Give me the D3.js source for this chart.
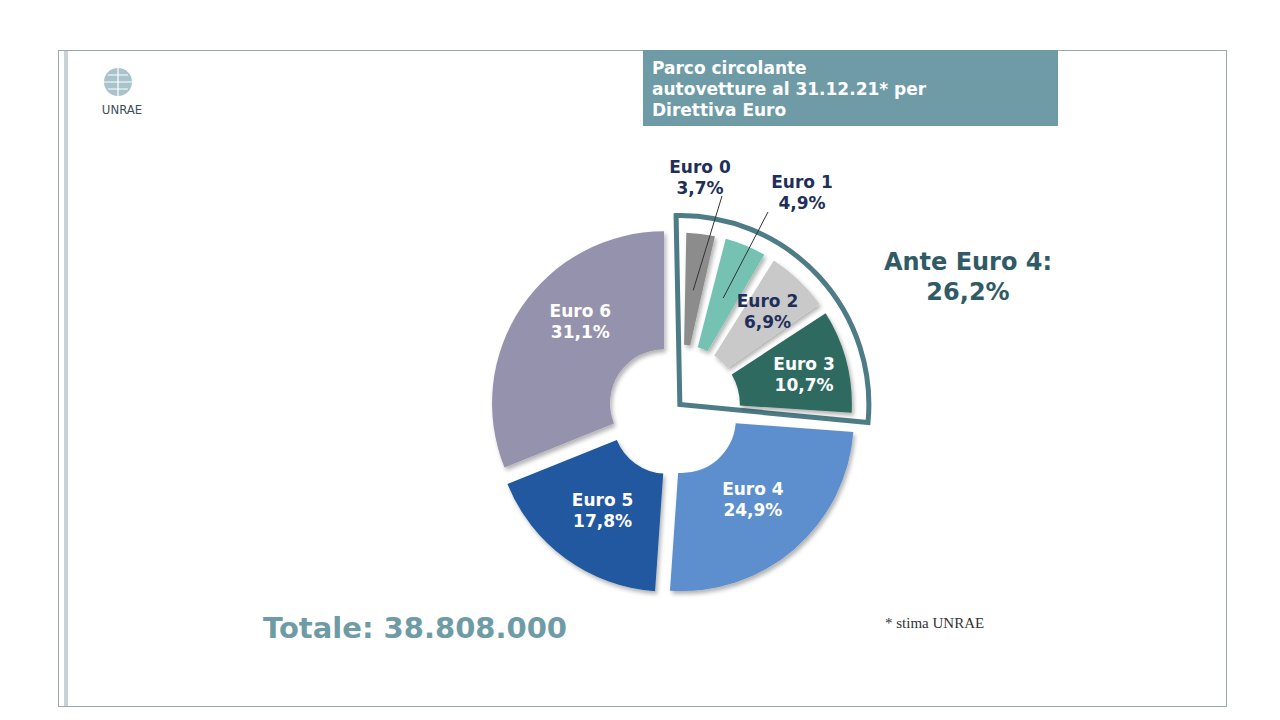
<!DOCTYPE html>
<html>
<head>
<meta charset="utf-8">
<script src="https://cdn.jsdelivr.net/npm/d3@7"></script>
<style>
body { margin: 0; background: #fff; }
svg { font-family: Verdana, "DejaVu Sans", sans-serif; }
</style>
</head>
<body>
<svg id="chart" width="1280" height="720"></svg>
<script>
const categories = ["Euro 0", "Euro 1", "Euro 2", "Euro 3", "Euro 4", "Euro 5", "Euro 6"];
const values = [3.7, 4.9, 6.9, 10.7, 24.9, 17.8, 31.1];
const colors = ["#8c8c8c", "#74c2b2", "#c9c9c9", "#2f6b5f", "#5d8fcf", "#20599f", "#9592ad"];
const labelColors = ["#1f2f5a", "#1f2f5a", "#1f2f5a", "#ffffff", "#ffffff", "#ffffff", "#ffffff"];
const anteCount = 4;
const total = "38.808.000";

const svg = d3.select("#chart");
const fmt = v => v.toFixed(1).replace(".", ",") + "%";

// frame
svg.append("rect").attr("x", 58.5).attr("y", 50.5).attr("width", 1168).attr("height", 656)
    .attr("fill", "none").attr("stroke", "#9aa8ab");
svg.append("line").attr("x1", 66).attr("x2", 66).attr("y1", 51).attr("y2", 706)
    .attr("stroke", "#c9d3d5").attr("stroke-width", 4);

// logo
const logo = svg.append("g").attr("transform", "translate(118,82)");
logo.append("circle").attr("r", 14).attr("fill", "#a9c3cb");
logo.append("path").attr("d", "M-14,0H14M0,-14V14M-10,-7H10M-10,7H10").attr("stroke", "#fff").attr("stroke-width", 1.2);
logo.append("text").attr("x", 4).attr("y", 32).attr("text-anchor", "middle")
    .attr("font-size", 13).attr("fill", "#3d4f57").attr("font-family", "DejaVu Sans Condensed").text("UNRAE");

// title box
svg.append("rect").attr("x", 643).attr("y", 50).attr("width", 415).attr("height", 76).attr("fill", "#6e9ba6");
["Parco circolante", "autovetture al 31.12.21* per", "Direttiva Euro"].forEach((t, i) => {
    svg.append("text").attr("x", 652).attr("y", 74 + i * 21).attr("fill", "#fff")
        .attr("font-size", 17).attr("font-weight", "bold").text(t);
});

// pie
const cx = 674, cy = 410;
const R = 172, r0 = 54, explode = 8;
const pie = d3.pie().sort(null).value(d => d)(values);
const toXY = (a, d) => [Math.sin(a) * d, -Math.cos(a) * d];

const defs = svg.append("defs");
const sh = defs.append("filter").attr("id", "sh").attr("x", "-20%").attr("y", "-20%").attr("width", "140%").attr("height", "140%");
sh.append("feDropShadow").attr("dx", 2).attr("dy", 3).attr("stdDeviation", 2).attr("flood-opacity", 0.3);

const g = svg.append("g").attr("transform", `translate(${cx},${cy})`);

// ante euro 4 group
const anteEnd = pie[anteCount - 1].endAngle;
const anteMid = anteEnd / 2;
const [ax, ay] = toXY(anteMid, explode);
const ante = g.append("g").attr("transform", `translate(${ax},${ay})`);
ante.append("path")
    .attr("d", d3.arc().innerRadius(0).outerRadius(R + 17)({ startAngle: -0.02, endAngle: anteEnd + 0.02 }))
    .attr("fill", "#fff").attr("stroke", "#4d7c86").attr("stroke-width", 5);
const arcIn = d3.arc().innerRadius(r0 + 6).outerRadius(R).padAngle(0.035).padRadius(R);
ante.selectAll("path.s").data(pie.slice(0, anteCount)).enter().append("path")
    .attr("class", "s").attr("d", d => arcIn({ ...d, startAngle: d.startAngle + 0.02, endAngle: d.endAngle - 0.01 }))
    .attr("fill", (d, i) => colors[i]).attr("filter", "url(#sh)");

// other slices
const arc = d3.arc().innerRadius(r0).outerRadius(R);
pie.slice(anteCount).forEach((d, k) => {
    const i = k + anteCount;
    const [ox, oy] = toXY((d.startAngle + d.endAngle) / 2, explode + 4);
    g.append("path").attr("d", arc(d)).attr("transform", `translate(${ox},${oy})`)
        .attr("fill", colors[i]).attr("filter", "url(#sh)");
});

// labels
const labArc = d3.arc().innerRadius(r0).outerRadius(R);
const nudge = [[0, 0], [0, 0], [10, -15], [15, -5], [5, 0], [-5, 5], [0, -30]];
pie.forEach((d, i) => {
    let x, y;
    const mid = (d.startAngle + d.endAngle) / 2;
    if (i < 2) {
        const p = toXY(mid, 115);
        const lp = i === 0 ? [26, -237] : [128, -222];
        x = lp[0]; y = lp[1];
        g.append("line").attr("x1", p[0] + ax).attr("y1", p[1] + ay)
            .attr("x2", i === 0 ? 48 : 94).attr("y2", i === 0 ? -214 : -198)
            .attr("stroke", "#333").attr("stroke-width", 1);
    } else {
        const c = labArc.centroid(d);
        x = c[0] + (i < anteCount ? ax : 0) + nudge[i][0];
        y = c[1] + (i < anteCount ? ay : 0) + nudge[i][1];
    }
    const t = g.append("text").attr("text-anchor", "middle").attr("font-size", 17)
        .attr("font-weight", "bold").attr("fill", labelColors[i]);
    t.append("tspan").attr("x", x).attr("y", y).text(categories[i]);
    t.append("tspan").attr("x", x).attr("y", y + 21).text(fmt(values[i]));
});

// ante total
const anteSum = d3.sum(values.slice(0, anteCount));
svg.append("text").attr("x", 968).attr("y", 270).attr("text-anchor", "middle").attr("font-size", 24)
    .attr("font-weight", "bold").attr("fill", "#2f5a66").text("Ante Euro 4:");
svg.append("text").attr("x", 968).attr("y", 300).attr("text-anchor", "middle").attr("font-size", 24)
    .attr("font-weight", "bold").attr("fill", "#2f5a66").text(fmt(anteSum));

svg.append("text").attr("x", 263).attr("y", 638).attr("font-size", 29).attr("font-weight", "bold")
    .attr("fill", "#6e9ba6").text("Totale: " + total);
svg.append("text").attr("x", 885).attr("y", 628).attr("font-size", 15)
    .attr("font-family", "Liberation Serif, serif").attr("fill", "#333").text("* stima UNRAE");
</script>
</body>
</html>
